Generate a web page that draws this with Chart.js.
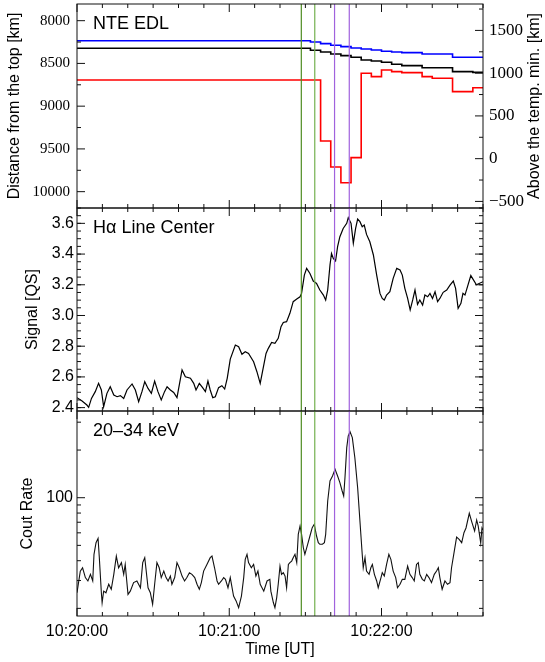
<!DOCTYPE html>
<html>
<head>
<meta charset="utf-8">
<title>NTE EDL / H-alpha / HXR</title>
<script src="https://cdn.jsdelivr.net/npm/chart.js@4.4.1/dist/chart.umd.min.js"></script>
<style>
  html, body { margin: 0; padding: 0; background: #fff; }
  .figure { position: relative; width: 545px; height: 662px; overflow: hidden; }
  .figure canvas { position: absolute; left: 0; }
</style>
</head>
<body>
<div class="figure">
  <canvas id="edlChart" width="545" height="216" style="top:0px"></canvas>
  <canvas id="haChart" width="545" height="215" style="top:204px"></canvas>
  <canvas id="hxrChart" width="545" height="255" style="top:407px"></canvas>
</div>
<script>
const SANS = '"Liberation Sans", Arial, Helvetica, sans-serif';
const SERIF = '"Liberation Serif", "Times New Roman", serif';

// time axis, seconds after 10:20:00 UT
const timeTickValues = [0, 60, 120];
const timeTickLabels = ["10:20:00", "10:21:00", "10:22:00"];

// vertical markers
const markerTimes = [88.4, 93.7, 101.5, 107.3];
const markerColors = ["#4f8d22", "#74b14f", "#a062dd", "#a062dd"];

// NTE EDL, distance from the top [km], 4 s steps
const edlTime  = [0, 92, 96, 100, 104, 108, 112, 116, 120, 124, 128, 132, 136, 140, 144, 148, 152, 156, 160];
const edlBlue  = [8234, 8249, 8269, 8288, 8304, 8319, 8331, 8343, 8358, 8366, 8374, 8374, 8389, 8389, 8389, 8428, 8428, 8428, 8428];
const edlBlack = [8323, 8346, 8366, 8389, 8409, 8428, 8460, 8471, 8487, 8510, 8526, 8526, 8550, 8550, 8550, 8596, 8596, 8605, 8605];
const edlRed   = [8694, 8694, 9407, 9711, 9895, 9602, 8615, 8655, 8577, 8596, 8608, 8608, 8655, 8674, 8674, 8830, 8830, 8784, 8784];
const edlTicks = [8000, 8500, 9000, 9500, 10000];
const heightTicks = [-500, 0, 500, 1000, 1500];
const heightTickLabels = ["\u2212500", "0", "500", "1000", "1500"];

// H-alpha line center signal [QS]
const haTime = [
  0, 2.0, 3.9, 4.6, 5.7, 7.2, 8.5, 9.6, 10.5, 11.8,
  13.1, 14.5, 15.8, 17.1, 18.4, 19.7, 21.7, 23.0, 24.3, 25.6,
  26.7, 28.0, 29.3, 30.6, 31.9, 33.2, 34.5, 35.5, 36.8, 38.1,
  39.4, 40.3, 41.4, 42.7, 44.7, 46.0, 46.9, 48.2, 49.5, 50.6,
  51.6, 52.5, 53.5, 54.5, 55.8, 57.1, 58.2, 59.2, 60.4, 62.4,
  63.7, 65.0, 66.3, 67.6, 69.6, 70.9, 72.2, 73.6, 74.5, 75.4,
  76.7, 78.0, 79.3, 80.4, 81.3, 82.6, 83.9, 85.2, 86.6, 87.9,
  88.5, 89.6, 90.5, 91.8, 93.1, 94.4, 95.7, 97.1, 98.0, 98.8,
  99.7, 100.3, 101.0, 101.9, 102.7, 103.6, 104.9, 106.3, 106.9, 108.0,
  108.9, 109.8, 110.6, 111.5, 112.4, 113.2, 114.1, 115.4, 116.8, 118.1,
  119.4, 120.3, 121.1, 122.0, 123.3, 124.6, 126.0, 127.3, 128.2, 129.2,
  130.3, 131.3, 132.3, 133.2, 134.2, 135.1, 136.2, 137.1, 138.2, 139.1,
  140.1, 141.1, 142.1, 143.0, 144.3, 145.7, 147.0, 148.3, 149.2, 150.2,
  151.3, 152.1, 152.9, 155.2, 157.4, 160
];
const haSignal = [
  2.465, 2.443, 2.417, 2.402, 2.460, 2.504, 2.558, 2.515, 2.406, 2.493,
  2.536, 2.482, 2.471, 2.478, 2.460, 2.515, 2.554, 2.515, 2.439, 2.504,
  2.569, 2.525, 2.493, 2.573, 2.504, 2.450, 2.504, 2.536, 2.515, 2.499,
  2.465, 2.547, 2.645, 2.601, 2.591, 2.558, 2.515, 2.558, 2.530, 2.504,
  2.573, 2.515, 2.465, 2.471, 2.530, 2.543, 2.521, 2.591, 2.716, 2.808,
  2.797, 2.747, 2.764, 2.753, 2.699, 2.634, 2.558, 2.677, 2.753, 2.786,
  2.825, 2.819, 2.851, 2.927, 2.955, 2.960, 3.014, 3.090, 3.107, 3.122,
  3.144, 3.263, 3.307, 3.274, 3.224, 3.209, 3.166, 3.133, 3.101, 3.166,
  3.329, 3.404, 3.372, 3.355, 3.448, 3.513, 3.567, 3.600, 3.637, 3.600,
  3.470, 3.567, 3.628, 3.611, 3.578, 3.589, 3.528, 3.480, 3.394, 3.263,
  3.144, 3.111, 3.101, 3.133, 3.155, 3.242, 3.307, 3.296, 3.263, 3.177,
  3.111, 3.036, 3.101, 3.166, 3.072, 3.101, 3.068, 3.133, 3.122, 3.144,
  3.111, 3.155, 3.090, 3.111, 3.151, 3.166, 3.198, 3.224, 3.177, 3.046,
  3.079, 3.144, 3.133, 3.260, 3.200, 3.220
];
const signalTicks = [2.4, 2.6, 2.8, 3.0, 3.2, 3.4, 3.6];

// 20-34 keV count rate
const hxrTime = [
  0, 1.3, 2.2, 3.3, 4.3, 5.3, 6.2, 6.7, 7.5, 8.3,
  8.8, 9.6, 9.9, 10.5, 11.4, 12.5, 13.5, 14.5, 15.5, 16.4,
  17.5, 18.4, 19.0, 20.1, 21.0, 22.3, 23.6, 25.0, 25.9, 26.7,
  27.2, 28.0, 28.9, 29.8, 30.6, 31.5, 32.4, 33.2, 34.2, 35.1,
  35.9, 36.8, 37.4, 38.5, 39.4, 40.3, 41.4, 42.4, 43.3, 44.3,
  45.3, 46.4, 47.3, 48.2, 49.0, 49.9, 51.2, 52.5, 53.2, 54.2,
  55.2, 55.8, 56.9, 57.8, 58.5, 59.5, 60.4, 61.7, 62.7, 63.7,
  64.8, 65.7, 66.3, 67.0, 67.6, 68.7, 69.6, 70.5, 71.3, 72.2,
  73.6, 74.9, 76.0, 76.4, 77.4, 78.0, 78.7, 79.3, 80.0, 80.6,
  81.3, 82.0, 82.6, 83.3, 83.9, 84.6, 85.2, 85.9, 86.6, 87.2,
  87.9, 88.5, 89.2, 89.8, 90.9, 91.8, 92.7, 93.5, 94.4, 95.1,
  95.7, 96.7, 97.5, 98.0, 98.8, 99.7, 100.7, 101.7, 102.7, 103.6,
  104.5, 105.1, 105.6, 106.3, 106.9, 107.6, 108.5, 109.5, 110.6, 111.5,
  112.4, 112.8, 113.5, 114.1, 115.1, 115.8, 116.4, 117.2, 118.1, 118.7,
  119.8, 120.3, 121.1, 122.0, 122.9, 123.7, 124.6, 125.6, 126.3, 127.3,
  128.2, 129.2, 130.3, 131.2, 132.1, 132.9, 133.8, 134.5, 135.1, 136.1,
  136.9, 137.8, 138.7, 139.7, 140.8, 141.7, 142.4, 143.0, 143.9, 145.0,
  146.0, 147.0, 147.6, 148.7, 149.6, 150.6, 151.6, 152.5, 153.3, 154.6,
  155.6, 156.7, 157.5, 158.1, 159.1, 159.6, 160
];
const hxrRate = [
  25.1, 34.4, 36.1, 31.3, 29.8, 32.8, 29.8, 43.9, 52.0, 55.4,
  41.8, 25.1, 21.7, 25.7, 25.1, 28.4, 26.4, 32.8, 42.8, 36.1,
  38.9, 32.8, 37.9, 24.5, 25.7, 29.1, 29.8, 27.0, 38.9, 41.8,
  35.3, 27.0, 25.1, 21.2, 28.4, 38.9, 36.1, 31.3, 34.4, 31.3,
  29.8, 32.0, 28.4, 31.3, 38.9, 36.1, 32.0, 29.8, 31.3, 33.6,
  32.8, 31.3, 28.4, 26.4, 29.1, 34.4, 37.9, 41.8, 42.8, 36.1,
  29.8, 28.4, 29.8, 31.3, 30.5, 27.0, 31.3, 23.9, 22.3, 20.2,
  23.9, 31.3, 40.8, 43.9, 38.9, 36.1, 37.9, 32.0, 34.4, 28.4,
  25.7, 29.8, 30.5, 25.7, 21.7, 20.2, 23.4, 28.4, 37.0, 32.8,
  33.6, 32.0, 27.0, 37.9, 38.9, 39.8, 41.8, 43.9, 38.9, 58.7,
  66.3, 58.7, 48.3, 43.9, 50.8, 57.3, 64.7, 67.9, 57.3, 52.0,
  50.8, 50.8, 52.0, 58.7, 95.3, 127.5, 137.1, 151.1, 137.1, 124.5,
  110.3, 102.6, 133.8, 207.1, 245.4, 261.3, 239.5, 179.0, 115.7, 71.3,
  43.9, 36.1, 41.8, 34.4, 32.8, 36.1, 37.9, 32.8, 29.8, 27.0,
  31.3, 33.6, 32.0, 37.9, 43.9, 40.8, 34.4, 31.3, 27.0, 28.4,
  30.5, 30.5, 37.0, 32.8, 31.3, 29.8, 37.9, 38.9, 32.8, 30.5,
  29.8, 32.8, 31.3, 29.1, 32.8, 34.4, 36.1, 31.3, 26.4, 29.8,
  28.4, 29.1, 36.1, 46.1, 56.4, 54.6, 52.0, 60.1, 64.4, 79.7,
  70.2, 61.6, 72.3, 66.3, 51.7, 64.4, 62.6
];
const rateTicks = [100];
const rateMinorTicks = [20, 30, 40, 50, 60, 70, 80, 90, 200, 300];

function xy(xs, ys) {
  return xs.map((x, i) => ({ x: x, y: ys[i] }));
}

function steps(from, to, step) {
  const out = [];
  for (let v = from; v <= to + 1e-9; v += step) out.push(+v.toFixed(4));
  return out;
}

function fixedTicks(values) {
  return function(scale) {
    scale.ticks = values.map(value => ({ value }));
  };
}

// frame, inward ticks, marker lines and panel label (IDL style)
const panelPlugin = {
  id: "panel",
  afterDatasetsDraw(chart) {
    const { ctx, chartArea: a, scales } = chart;
    ctx.save();
    ctx.lineWidth = 1.2;
    markerTimes.forEach(function(t, i) {
      const px = scales.x.getPixelForValue(t);
      ctx.strokeStyle = markerColors[i];
      ctx.beginPath();
      ctx.moveTo(px, a.top);
      ctx.lineTo(px, a.bottom);
      ctx.stroke();
    });
    ctx.restore();
  },
  afterDraw(chart, args, opts) {
    const { ctx, chartArea: a, scales } = chart;
    ctx.save();
    ctx.strokeStyle = "#111";
    ctx.lineWidth = 1;
    ctx.strokeRect(a.left, a.top, a.right - a.left, a.bottom - a.top);

    ctx.beginPath();
    steps(0, 160, 10).forEach(function(t) {
      const px = scales.x.getPixelForValue(t);
      const len = timeTickValues.includes(t) ? 8 : 4;
      ctx.moveTo(px, a.bottom); ctx.lineTo(px, a.bottom - len);
      ctx.moveTo(px, a.top); ctx.lineTo(px, a.top + len);
    });
    opts.ticks.forEach(function(tk) {
      const s = scales[tk.scale];
      const edge = tk.side === "left" ? a.left : a.right;
      const dir = tk.side === "left" ? 1 : -1;
      const mark = function(v, len) {
        const py = s.getPixelForValue(v);
        if (py < a.top - 0.5 || py > a.bottom + 0.5) return;
        ctx.moveTo(edge, py);
        ctx.lineTo(edge + dir * len, py);
      };
      tk.major.forEach(v => mark(v, 8));
      tk.minor.forEach(v => mark(v, 4));
    });
    ctx.stroke();

    ctx.fillStyle = "#000";
    ctx.font = "18px " + SANS;
    ctx.textAlign = "left";
    ctx.textBaseline = "alphabetic";
    ctx.fillText(opts.label, a.left + 16, a.top + 24.5);

    if (opts.rightTitle) {
      ctx.font = "16px " + SANS;
      ctx.translate(a.right + 52, (a.top + a.bottom) / 2);
      ctx.rotate(-Math.PI / 2);
      ctx.textAlign = "center";
      ctx.textBaseline = "middle";
      ctx.fillText(opts.rightTitle, 0, 0);
    }
    ctx.restore();
  }
};

function timeAxis(show) {
  return {
    type: "linear",
    min: 0,
    max: 160,
    display: show,
    grid: { display: false, drawTicks: false },
    border: { display: false },
    afterBuildTicks: fixedTicks(timeTickValues),
    afterFit: function(scale) {
      scale.height = show ? 46 : 0;
      scale.paddingLeft = 0;
      scale.paddingRight = 0;
    },
    ticks: {
      autoSkip: false,
      maxRotation: 0,
      padding: 6,
      color: "#000",
      font: { family: SANS, size: 16 },
      callback: (v, i) => timeTickLabels[i]
    },
    title: {
      display: true,
      text: "Time [UT]",
      color: "#000",
      font: { family: SANS, size: 16 },
      padding: { top: 0, bottom: 3 }
    }
  };
}

function valueAxis(cfg) {
  return Object.assign({
    position: "left",
    grid: { display: false, drawTicks: false },
    border: { display: false },
    afterBuildTicks: fixedTicks(cfg.tickValues),
    afterFit: function(scale) {
      scale.width = cfg.width;
      scale.paddingTop = 0;
      scale.paddingBottom = 0;
    },
    ticks: {
      autoSkip: false,
      padding: cfg.pad,
      color: "#000",
      font: cfg.font,
      callback: (v, i) => cfg.tickLabels[i]
    },
    title: cfg.title ? {
      display: true,
      text: cfg.title,
      color: "#000",
      font: { family: SANS, size: 16 },
      padding: { top: cfg.titlePad, bottom: 0 }
    } : { display: false }
  }, cfg.extra);
}

function baseOptions(padding, scales, panel) {
  return {
    responsive: false,
    animation: false,
    events: [],
    layout: { padding: padding },
    scales: scales,
    plugins: {
      legend: { display: false },
      tooltip: { enabled: false },
      panel: panel
    }
  };
}

const lineStyle = { pointRadius: 0, fill: false, tension: 0 };

new Chart(document.getElementById("edlChart"), {
  type: "line",
  data: {
    datasets: [
      Object.assign({ data: xy(edlTime, edlBlue), borderColor: "#0000ff", borderWidth: 1.6, stepped: true, yAxisID: "y" }, lineStyle),
      Object.assign({ data: xy(edlTime, edlBlack), borderColor: "#000000", borderWidth: 1.6, stepped: true, yAxisID: "y" }, lineStyle),
      Object.assign({ data: xy(edlTime, edlRed), borderColor: "#ff0000", borderWidth: 1.6, stepped: true, yAxisID: "y" }, lineStyle)
    ]
  },
  options: baseOptions({ top: 4, bottom: 8, left: 0, right: 0 }, {
    x: timeAxis(false),
    y: valueAxis({
      tickValues: edlTicks, tickLabels: edlTicks.map(String), width: 77, pad: 7,
      font: { family: SERIF, size: 15 }, title: "Distance from the top [km]", titlePad: 5,
      extra: { type: "linear", reverse: true, min: 7805, max: 10191 }
    }),
    y2: valueAxis({
      tickValues: heightTicks, tickLabels: heightTickLabels, width: 62, pad: 6,
      font: { family: SERIF, size: 17 },
      extra: { type: "linear", position: "right", min: -577, max: 1809 }
    })
  }, {
    label: "NTE EDL",
    rightTitle: "Above the temp. min. [km]",
    ticks: [
      { scale: "y", side: "left", major: edlTicks, minor: [8250, 8750, 9250, 9750] },
      { scale: "y2", side: "right", major: heightTicks, minor: [-250, 250, 750, 1250, 1750] }
    ]
  }),
  plugins: [panelPlugin]
});

new Chart(document.getElementById("haChart"), {
  type: "line",
  data: {
    datasets: [
      Object.assign({ data: xy(haTime, haSignal), borderColor: "#000", borderWidth: 1.2 }, lineStyle)
    ]
  },
  options: baseOptions({ top: 4, bottom: 8, left: 0, right: 62 }, {
    x: timeAxis(false),
    y: valueAxis({
      tickValues: signalTicks, tickLabels: signalTicks.map(v => v.toFixed(1)), width: 77, pad: 3,
      font: { family: SANS, size: 16 }, title: "Signal [QS]", titlePad: 23,
      extra: { type: "linear", min: 2.378, max: 3.70 }
    })
  }, {
    label: "H\u03b1 Line Center",
    ticks: [
      { scale: "y", side: "left", major: signalTicks, minor: steps(2.35, 3.7, 0.05) },
      { scale: "y", side: "right", major: signalTicks, minor: steps(2.35, 3.7, 0.05) }
    ]
  }),
  plugins: [panelPlugin]
});

new Chart(document.getElementById("hxrChart"), {
  type: "line",
  data: {
    datasets: [
      Object.assign({ data: xy(hxrTime, hxrRate), borderColor: "#111", borderWidth: 1.1 }, lineStyle)
    ]
  },
  options: baseOptions({ top: 4, bottom: 0, left: 0, right: 62 }, {
    x: timeAxis(true),
    y: valueAxis({
      tickValues: rateTicks, tickLabels: rateTicks.map(String), width: 77, pad: 4,
      font: { family: SANS, size: 16 }, title: "Cout Rate", titlePad: 18,
      extra: { type: "logarithmic", min: 17.9, max: 353 }
    })
  }, {
    label: "20\u201334 keV",
    ticks: [
      { scale: "y", side: "left", major: rateTicks, minor: rateMinorTicks },
      { scale: "y", side: "right", major: rateTicks, minor: rateMinorTicks }
    ]
  }),
  plugins: [panelPlugin]
});
</script>
</body>
</html>
